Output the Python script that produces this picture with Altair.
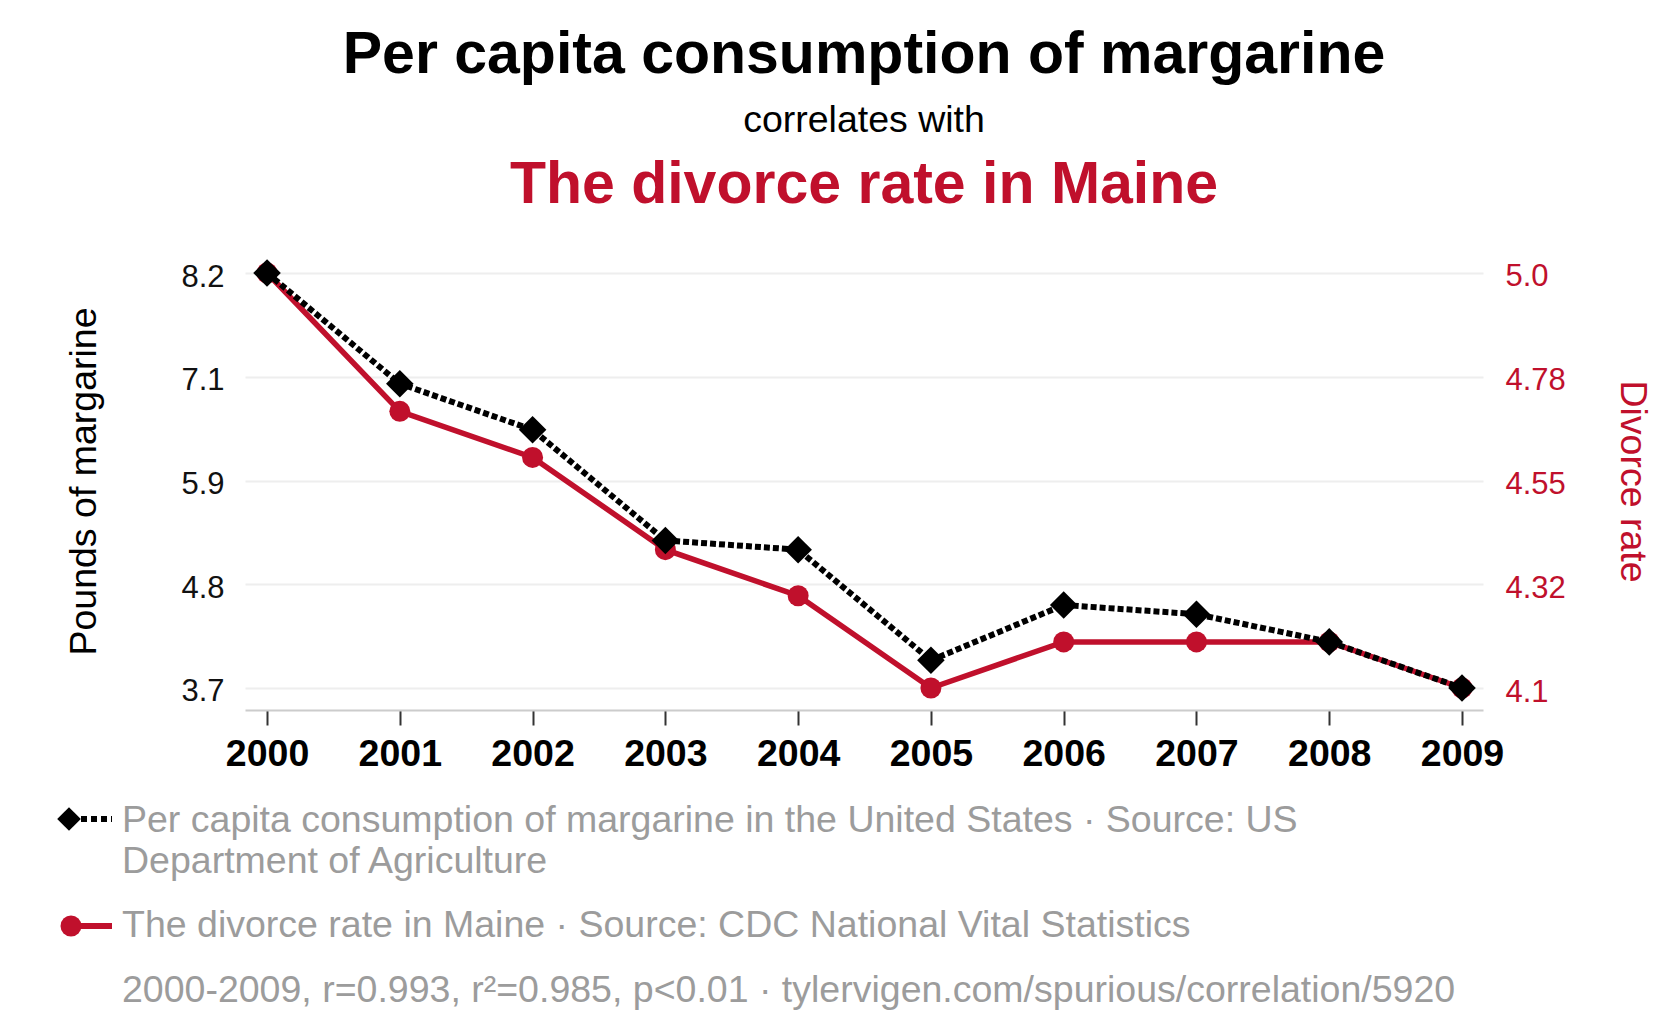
import altair as alt
import pandas as pd

YEARS = [2000, 2001, 2002, 2003, 2004, 2005, 2006, 2007, 2008, 2009]
MARGARINE = [8.2, 7.0, 6.5, 5.3, 5.2, 4.0, 4.6, 4.5, 4.2, 3.7]
DIVORCE = [5.0, 4.7, 4.6, 4.4, 4.3, 4.1, 4.2, 4.2, 4.2, 4.1]

LEFT_TICKS = [3.7, 4.825, 5.95, 7.075, 8.2]
LEFT_LABELS = ["3.7", "4.8", "5.9", "7.1", "8.2"]
RIGHT_TICKS = [4.1, 4.325, 4.55, 4.775, 5.0]
RIGHT_LABELS = ["4.1", "4.32", "4.55", "4.78", "5.0"]

TITLE = "Per capita consumption of margarine"
SUBTITLE = "correlates with"
TITLE2 = "The divorce rate in Maine"
LEGEND1 = "Per capita consumption of margarine in the United States · Source: US\nDepartment of Agriculture"
LEGEND2 = "The divorce rate in Maine · Source: CDC National Vital Statistics"
FOOTER = "2000-2009, r=0.993, r²=0.985, p<0.01 · tylervigen.com/spurious/correlation/5920"

RED = "#c0102c"
GRAY = "#9c9c9c"
FONT = "Liberation Sans"
W, H = 1238, 458

df = pd.DataFrame({"year": YEARS, "margarine": MARGARINE, "divorce": DIVORCE})
one = pd.DataFrame({"k": [0]})


def label_expr(ticks, labels):
    return "[%s][indexof([%s], datum.value)]" % (
        ",".join("'%s'" % l for l in labels),
        ",".join(repr(t) for t in ticks),
    )


x_enc = alt.X(
    "year:Q",
    scale=alt.Scale(domain=[1999.834, 2009.158], nice=False, zero=False),
    axis=alt.Axis(
        values=YEARS, format="d", title=None, grid=False,
        labelFontSize=37.5, labelFontWeight="bold", labelColor="black", labelFont=FONT,
        labelPadding=10, tickSize=15, tickColor="#333", tickWidth=2,
        domainColor="#cccccc", domainWidth=2, labelFlush=False,
    ),
)

left_axis = alt.Axis(
    orient="left", values=LEFT_TICKS, labelExpr=label_expr(LEFT_TICKS, LEFT_LABELS),
    labelFontSize=31, labelColor="#111", labelFont=FONT, labelPadding=21, labelOffset=4,
    ticks=False, domain=False, grid=True, gridColor="#eeeeee", gridWidth=2,
    title="Pounds of margarine", titleFontSize=37.5, titleFontWeight="normal",
    titleColor="black", titleFont=FONT, titleAngle=270, titleX=-150, titleY=H / 2,
    titleBaseline="alphabetic", titleAlign="center",
)
right_axis = alt.Axis(
    orient="right", values=RIGHT_TICKS, labelExpr=label_expr(RIGHT_TICKS, RIGHT_LABELS),
    labelFontSize=31, labelColor=RED, labelFont=FONT, labelPadding=22, labelOffset=4,
    ticks=False, domain=False, grid=False,
    title="Divorce rate", titleFontSize=37.5, titleFontWeight="normal",
    titleColor=RED, titleFont=FONT, titleAngle=90, titleX=137, titleY=H / 2,
    titleBaseline="alphabetic", titleAlign="center",
)

m_scale = alt.Scale(domain=[3.4614, 8.428], nice=False, zero=False)
d_scale = alt.Scale(domain=[4.0523, 5.0455], nice=False, zero=False)

red_base = alt.Chart(df).encode(
    x=x_enc, y=alt.Y("divorce:Q", scale=d_scale, axis=right_axis)
)
blk_base = alt.Chart(df).encode(
    x=x_enc, y=alt.Y("margarine:Q", scale=m_scale, axis=left_axis)
)

red = alt.layer(
    red_base.mark_line(color=RED, strokeWidth=5.5),
    red_base.mark_circle(color=RED, size=440, opacity=1),
)
blk = alt.layer(
    blk_base.mark_line(color="black", strokeWidth=6, strokeDash=[6, 3], strokeCap="butt"),
    blk_base.mark_point(shape="diamond", filled=True, color="black", size=760, opacity=1),
)

ann = alt.Chart(one)
title2 = ann.mark_text(
    text=TITLE2, font=FONT, fontSize=59, fontWeight="bold", color=RED,
    align="center", baseline="alphabetic",
).encode(x=alt.value(W / 2), y=alt.value(-49))

leg_diamond = ann.mark_point(shape="diamond", filled=True, color="black", size=560, opacity=1).encode(
    x=alt.value(-176), y=alt.value(567)
)
leg_dash = ann.mark_rule(color="black", strokeWidth=6, strokeDash=[6, 4]).encode(
    x=alt.value(-164), x2=alt.value(-133), y=alt.value(567)
)
leg_circle = ann.mark_circle(color=RED, size=440, opacity=1).encode(
    x=alt.value(-174), y=alt.value(674)
)
leg_line = ann.mark_rule(color=RED, strokeWidth=6).encode(
    x=alt.value(-166), x2=alt.value(-133), y=alt.value(674)
)
leg_text1 = ann.mark_text(
    text=LEGEND1, lineBreak="\n", lineHeight=41, font=FONT, fontSize=37.5, color=GRAY,
    align="left", baseline="alphabetic",
).encode(x=alt.value(-123), y=alt.value(580))
leg_text2 = ann.mark_text(
    text=LEGEND2, font=FONT, fontSize=37.5, color=GRAY, align="left", baseline="alphabetic",
).encode(x=alt.value(-123), y=alt.value(685))
footer = ann.mark_text(
    text=FOOTER, font=FONT, fontSize=37.5, color=GRAY, align="left", baseline="alphabetic",
).encode(x=alt.value(-123), y=alt.value(750))

chart = (
    alt.layer(red, blk, title2, leg_diamond, leg_dash, leg_circle, leg_line,
              leg_text1, leg_text2, footer)
    .resolve_scale(y="independent")
    .properties(
        width=W,
        height=H,
        title=alt.TitleParams(
            text=TITLE, subtitle=SUBTITLE, font=FONT, fontSize=59, fontWeight="bold",
            color="black", subtitleFont=FONT, subtitleFontSize=37.5, subtitleColor="black",
            subtitleFontWeight="normal", subtitlePadding=17, offset=17,
            anchor="middle", frame="group",
        ),
        autosize=alt.AutoSizeParams(type="none"),
        padding={"left": 237, "top": 244, "right": 176, "bottom": 307},
        background="white",
    )
    .configure_view(strokeWidth=0)
)

chart.save("out.html", embed_options={"renderer": "svg", "actions": False})
